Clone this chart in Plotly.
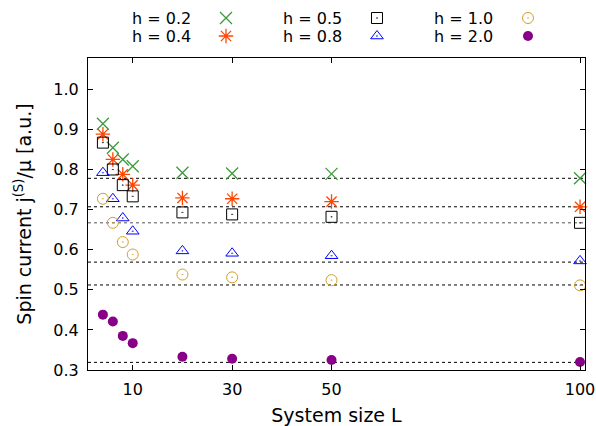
import plotly.graph_objects as go

# System sizes
L = [4, 6, 8, 10, 20, 30, 50, 100]

# Spin current j^(S)/mu for each field strength h
h_labels = ["h = 0.2", "h = 0.4", "h = 0.5", "h = 0.8", "h = 1.0", "h = 2.0"]
j_h02 = [0.914, 0.854, 0.825, 0.808, 0.792, 0.790, 0.789, 0.778]
j_h04 = [0.888, 0.825, 0.788, 0.761, 0.729, 0.727, 0.720, 0.707]
j_h05 = [0.867, 0.800, 0.761, 0.733, 0.693, 0.688, 0.682, 0.667]
j_h08 = [0.792, 0.727, 0.679, 0.646, 0.597, 0.591, 0.585, 0.572]
j_h10 = [0.727, 0.667, 0.619, 0.588, 0.538, 0.531, 0.524, 0.511]
j_h20 = [0.438, 0.421, 0.385, 0.367, 0.333, 0.328, 0.325, 0.320]

# Limiting values (dotted reference lines)
limits = [0.778, 0.707, 0.667, 0.569, 0.512, 0.319]

series = [j_h02, j_h04, j_h05, j_h08, j_h10, j_h20]
symbols = ["x-thin-open", "asterisk-open", "square-open-dot",
           "triangle-up-open-dot", "circle-open-dot", "circle"]
colors = ["#3a9a3a", "#ff4500", "#000000", "#0000ff", "#d4a020", "#870087"]
sizes = [12, 12, 11, 11, 11, 10]
line_w = [1.3, 1.3, 1.0, 1.0, 1.0, 0]

X_RANGE = [1, 101]
Y_RANGE = [0.3, 1.078]

W, H = 596, 426
ML, MR, MB = 88, 11, 56
PLOT_TOP = 58
area_h = H - MB
y_top_domain = (area_h - PLOT_TOP) / area_h

fig = go.Figure()

# dotted horizontal lines at the limiting values
for i, v in enumerate(limits):
    fig.add_trace(go.Scatter(
        x=X_RANGE, y=[v, v], mode="lines",
        line=dict(color="#555555" if i == 2 else "#000000", width=1, dash="dot"),
        showlegend=False, hoverinfo="skip"))

for ys, sym, col, sz, lw, name in zip(series, symbols, colors, sizes, line_w, h_labels):
    fig.add_trace(go.Scatter(
        x=L, y=ys, mode="markers", name=name, showlegend=False,
        marker=dict(symbol=sym, size=sz, color=col,
                    line=dict(color=col, width=lw)),
        cliponaxis=False))

# key above the plot: text followed by its symbol, three columns of two rows
key_text_x = [161, 161, 312, 312, 463, 463]
key_sym_x = [226, 226, 377, 377, 528, 528]
key_y = [18, 36, 18, 36, 18, 36]
for i in range(6):
    fig.add_trace(go.Scatter(
        x=[key_sym_x[i]], y=[key_y[i]], xaxis="x2", yaxis="y2",
        mode="markers", showlegend=False, hoverinfo="skip", cliponaxis=False,
        marker=dict(symbol=symbols[i], size=sizes[i], color=colors[i],
                    line=dict(color=colors[i], width=line_w[i]))))
    fig.add_annotation(x=key_text_x[i], y=key_y[i], xref="x2", yref="y2",
                       text=h_labels[i], showarrow=False,
                       xanchor="center", yanchor="middle",
                       font=dict(size=16, color="black"))

axis_common = dict(showline=True, linecolor="black", linewidth=1.2,
                   mirror="ticks", ticks="inside", ticklen=5, tickwidth=1,
                   tickcolor="black", showgrid=False, zeroline=False)

fig.update_layout(
    width=W, height=H,
    margin=dict(l=ML, r=MR, t=0, b=MB),
    paper_bgcolor="white", plot_bgcolor="white",
    font=dict(family="DejaVu Sans", size=16, color="black"),
    xaxis=dict(range=X_RANGE, tickvals=[10, 30, 50, 100],
               ticklabelstandoff=5,
               title=dict(text="System size L", standoff=12),
               domain=[0, 1], anchor="y", **axis_common),
    yaxis=dict(range=Y_RANGE, dtick=0.1, tick0=0.3, tickformat=".1f",
               ticklabelstandoff=5,
               title=dict(text="Spin current j<sup>(S)</sup>/μ [a.u.]", standoff=16),
               domain=[0, y_top_domain], anchor="x", **axis_common),
    xaxis2=dict(range=[ML, W - MR], domain=[0, 1], anchor="y2",
                visible=False, fixedrange=True),
    yaxis2=dict(range=[PLOT_TOP, 0], domain=[y_top_domain, 1], anchor="x2",
                visible=False, fixedrange=True),
)

fig.write_html("out.html")
